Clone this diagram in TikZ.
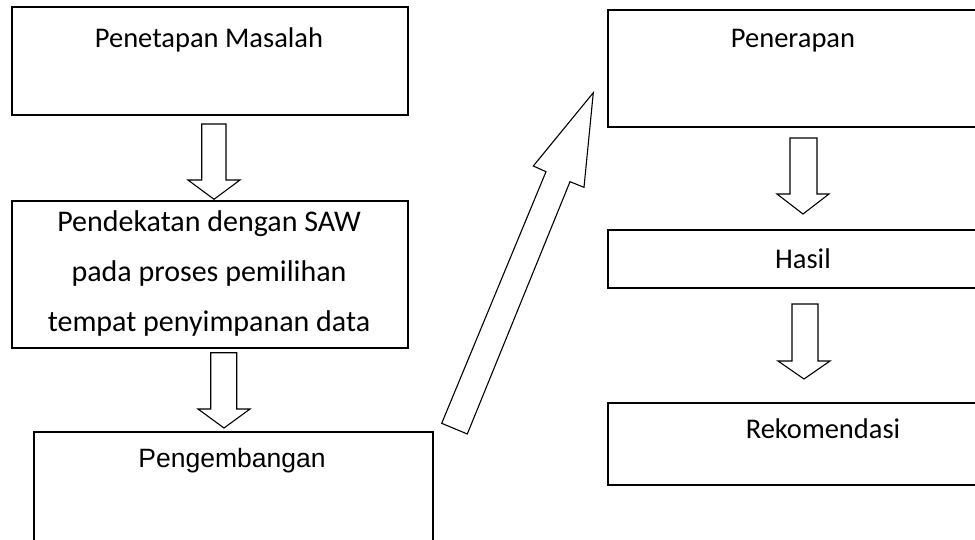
\documentclass[tikz,border=0pt]{standalone}
\usepackage{fontspec}
\setmainfont{Carlito}
\newfontfamily\arialfont{Liberation Sans}
\begin{document}
\begin{tikzpicture}[x=1pt,y=-1pt,
  box/.style={draw=black, line width=1.5pt, anchor=north west, inner sep=0pt},
  txt/.style={font=\fontsize{28.5}{50}\selectfont, inner sep=0pt, align=center},
  blockarrow/.style={draw=black, line width=1.1pt, fill=white, line join=miter}]
\useasboundingbox (0,0) rectangle (975,539);
\begin{scope}
\clip (0,0) rectangle (975,539);
% boxes
\node[box, minimum width=396pt, minimum height=108pt] (b1) at (11,6) {};
\node[box, minimum width=396pt, minimum height=147pt] (b2) at (11,200) {};
\node[box, minimum width=399pt, minimum height=140pt] (b3) at (33,431) {};
\node[box, minimum width=372pt, minimum height=117pt] (b4) at (607,9) {};
\node[box, minimum width=392pt, minimum height=58pt] (b5) at (607,229) {};
\node[box, minimum width=432pt, minimum height=82pt] (b6) at (607,402) {};
% texts
\node[txt, anchor=base] (t1) at (209,47) {Penetapan Masalah};
\node[txt, anchor=center, font=\fontsize{30}{50}\selectfont] (t2) at (209,273) {Pendekatan dengan SAW\\pada proses pemilihan\\tempat penyimpanan data};
\node[txt, anchor=base, font=\arialfont\fontsize{26.5}{30}\selectfont] (t3) at (232,467) {Pengembangan};
\node[txt, anchor=base] (t4) at (793,47) {Penerapan};
\node[txt, anchor=base] (t5) at (803,268) {Hasil};
\node[txt, anchor=base] (t6) at (823,438) {Rekomendasi};
% block arrows (down)
\draw[blockarrow] (201.7,124) -- (226,124) -- (226,180) -- (240,180) -- (214,199.3) -- (188,180) -- (201.7,180) -- cycle;
\draw[blockarrow] (210.7,352.7) -- (236.7,352.7) -- (236.7,409) -- (250,409) -- (224,428) -- (198,409) -- (210.7,409) -- cycle;
\draw[blockarrow] (790,138) -- (817,138) -- (817,194) -- (829,194) -- (803,214) -- (777,194) -- (790,194) -- cycle;
\draw[blockarrow] (792,304) -- (818,304) -- (818,361) -- (830,361) -- (804,379) -- (778,361) -- (792,361) -- cycle;
% diagonal block arrow
\draw[blockarrow] (441.7,423.3) -- (546,171.7) -- (533.3,166) -- (593.3,92.7) -- (584,187.3) -- (570,181.7) -- (467.3,434) -- cycle;
\end{scope}
\end{tikzpicture}
\end{document}
